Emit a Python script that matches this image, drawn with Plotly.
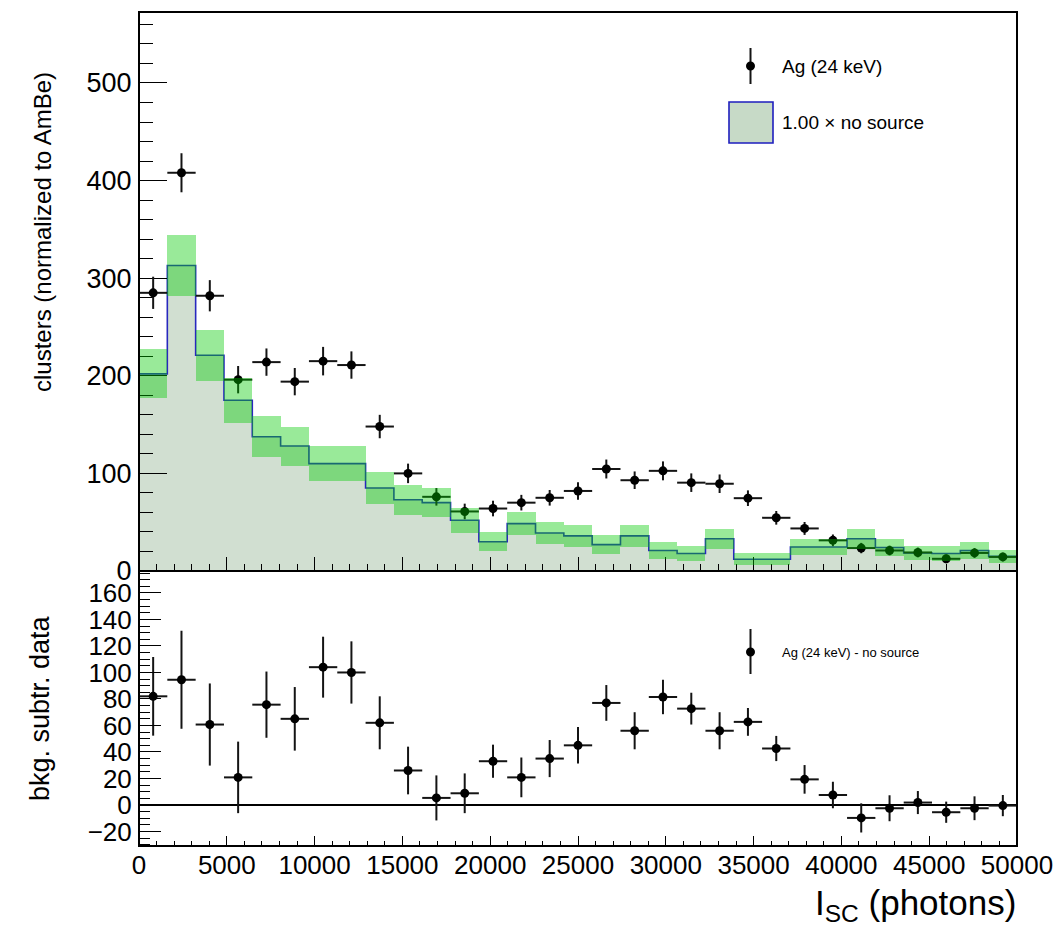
import numpy as np
import plotly.graph_objects as go

# ---------------- data ----------------
x_min, x_max, n_bins = 0, 50000, 31
edges = np.linspace(x_min, x_max, n_bins + 1)
centers = 0.5 * (edges[:-1] + edges[1:])
half_w = 0.5 * (edges[1] - edges[0])

ag_counts = [285, 408, 282, 196, 214, 194, 215, 211, 148, 100, 76, 61, 64, 70, 75, 82,
             104.5, 93, 102.6, 90.5, 89.4, 74.6, 54.5, 43.6, 31.4, 23.5, 21, 19, 12.5, 18.5, 14.4]
ag_err = [16.5, 20, 16, 14, 14, 14, 14.6, 14, 12, 10, 9, 8, 8, 8, 8, 9,
          9.7, 9, 9.7, 9.5, 9.5, 8, 7, 6.6, 6, 5.3, 5, 5, 4.5, 5, 4.5]

nosrc_counts = [202, 313, 221, 175, 137.5, 128, 110, 110, 85, 73, 70, 52, 30, 48.5, 39, 36,
                27, 36, 21, 18, 33, 12, 12, 24.6, 24.6, 33, 24, 18.5, 18, 21, 15]
nosrc_err = [25, 31, 26, 23, 21, 20, 18, 18, 16.5, 15.5, 15, 13, 10, 12, 11.5, 11,
             9.5, 11, 8.5, 7.8, 10, 6, 6, 8, 8, 10.5, 8.5, 7.5, 7.5, 8.5, 7]

sub_vals = [82, 94.5, 60.7, 20.8, 75.7, 65, 104, 100, 62, 26, 5.3, 8.8, 33, 20.8, 35, 45,
            77, 56, 81.5, 72.7, 56, 62.7, 42.6, 19.3, 7.5, -9.8, -2.5, 1.8, -5.5, -2.5, -0.5]
sub_err = [29.7, 37, 31, 27, 25, 24, 23, 23.5, 20, 18, 17, 15, 12.5, 15, 14, 13.8,
           13.5, 14, 13, 12, 14, 10.5, 9.5, 10.8, 10, 11, 9.8, 8.7, 8, 9, 8]

top_range = [0, 572.7]
bot_range = [-31, 176.6]

label_ag = "Ag (24 keV)"
label_bkg = "1.00 × no source"
label_sub = "Ag (24 keV) - no source"
ytitle_top = "clusters (normalized to AmBe)"
ytitle_bot = "bkg. subtr. data"
xtitle = "I<sub>SC</sub> (photons)"

# ---------------- style ----------------
W, H = 1064, 927
FONT = "Liberation Sans, Arial, Helvetica, sans-serif"
FILL = "rgb(209,223,209)"
LINE_BLUE = "rgb(40,40,190)"
BAND = "rgba(0,203,0,0.40)"
PT = "rgb(20,20,20)"

def px(x):
    return x / W

def py(y):
    return 1 - y / H

x_dom = [px(139), px(1017)]
top_dom = [py(571), py(12)]
bot_dom = [py(846), py(571)]

fig = go.Figure()

# background histogram (step + fill)
fig.add_trace(go.Scatter(
    x=edges, y=list(nosrc_counts) + [nosrc_counts[-1]],
    mode="lines", line=dict(shape="hv", color=LINE_BLUE, width=1.6),
    fill="tozeroy", fillcolor=FILL, xaxis="x", yaxis="y",
    showlegend=False, hoverinfo="skip", zorder=0))

# data points
fig.add_trace(go.Scatter(
    x=centers, y=ag_counts, mode="markers",
    marker=dict(color="black", size=9),
    error_x=dict(type="constant", value=half_w, width=0, thickness=2, color=PT),
    error_y=dict(type="data", array=ag_err, width=0, thickness=2, color=PT),
    xaxis="x", yaxis="y", showlegend=False, zorder=1))

# uncertainty band on background (drawn on top)
fig.add_trace(go.Bar(
    x=centers, y=[2 * e for e in nosrc_err],
    base=[v - e for v, e in zip(nosrc_counts, nosrc_err)],
    width=2 * half_w, marker=dict(color=BAND, line=dict(width=0)),
    xaxis="x", yaxis="y", showlegend=False, zorder=2))

# bottom panel
fig.add_trace(go.Scatter(
    x=centers, y=sub_vals, mode="markers",
    marker=dict(color="black", size=9),
    error_x=dict(type="constant", value=half_w, width=0, thickness=2, color=PT),
    error_y=dict(type="data", array=sub_err, width=0, thickness=2, color=PT),
    xaxis="x2", yaxis="y2", showlegend=False))

axis_common = dict(showline=True, linecolor="black", linewidth=2, mirror=True,
                   ticks="inside", tickcolor="black", tickwidth=1,
                   showgrid=False, zeroline=False, automargin=False,
                   tickformat="d", layer="above traces",
                   tickfont=dict(family=FONT, size=27, color="black"))

fig.update_layout(
    template="none",
    width=W, height=H,
    margin=dict(l=0, r=0, t=0, b=0, autoexpand=False),
    paper_bgcolor="white", plot_bgcolor="white",
    barmode="overlay", bargap=0,
    showlegend=False,
    xaxis=dict(axis_common, domain=x_dom, range=[x_min, x_max], anchor="y",
               tickmode="linear", tick0=0, dtick=5000, ticklen=14,
               showticklabels=False,
               minor=dict(dtick=1000, ticklen=7, ticks="inside", tickcolor="black")),
    yaxis=dict(axis_common, domain=top_dom, range=top_range, anchor="x",
               tickmode="linear", tick0=0, dtick=100, ticklen=28,
               minor=dict(dtick=20, ticklen=14, ticks="inside", tickcolor="black")),
    xaxis2=dict(axis_common, domain=x_dom, range=[x_min, x_max], anchor="y2",
                tickmode="linear", tick0=0, dtick=5000, ticklen=10,
                ticklabelstandoff=-5,
                tickfont=dict(family=FONT, size=26, color="black"),
                minor=dict(dtick=1000, ticklen=5, ticks="inside", tickcolor="black")),
    yaxis2=dict(axis_common, domain=bot_dom, range=bot_range, anchor="x2",
                tickmode="linear", tick0=0, dtick=20, ticklen=22,
                tickfont=dict(family=FONT, size=26, color="black"),
                zeroline=True, zerolinecolor="black", zerolinewidth=1.6,
                minor=dict(dtick=5, ticklen=11, ticks="inside", tickcolor="black")),
)

shapes = []
annotations = []

# pad frames
for xr, yr in (("x domain", "y domain"), ("x2 domain", "y2 domain")):
    shapes.append(dict(type="rect", xref=xr, yref=yr, x0=0, x1=1, y0=0, y1=1,
                       line=dict(color="black", width=2), fillcolor="rgba(0,0,0,0)",
                       layer="above"))

# top legend: data marker with error bar
shapes.append(dict(type="line", xref="paper", yref="paper",
                   x0=px(750.5), x1=px(750.5), y0=py(48), y1=py(84),
                   line=dict(color=PT, width=2)))
shapes.append(dict(type="circle", xref="paper", yref="paper",
                   x0=px(746), x1=px(755), y0=py(70.5), y1=py(61.5),
                   fillcolor="black", line=dict(color="black", width=0)))
annotations.append(dict(text=label_ag, xref="paper", yref="paper",
                        x=px(780), y=py(67), xanchor="left", yanchor="middle",
                        showarrow=False, font=dict(family=FONT, size=19, color="black")))
# top legend: background box
shapes.append(dict(type="rect", xref="paper", yref="paper",
                   x0=px(729), x1=px(773), y0=py(143), y1=py(102),
                   fillcolor="rgb(199,218,199)", line=dict(color="rgb(30,30,190)", width=1.6)))
annotations.append(dict(text=label_bkg, xref="paper", yref="paper",
                        x=px(780), y=py(123), xanchor="left", yanchor="middle",
                        showarrow=False, font=dict(family=FONT, size=19, color="black")))

# bottom legend
shapes.append(dict(type="line", xref="paper", yref="paper",
                   x0=px(750.5), x1=px(750.5), y0=py(629), y1=py(674),
                   line=dict(color=PT, width=2)))
shapes.append(dict(type="circle", xref="paper", yref="paper",
                   x0=px(746), x1=px(755), y0=py(656.5), y1=py(647.5),
                   fillcolor="black", line=dict(color="black", width=0)))
annotations.append(dict(text=label_sub, xref="paper", yref="paper",
                        x=px(780), y=py(652), xanchor="left", yanchor="middle",
                        showarrow=False, font=dict(family=FONT, size=13, color="black")))

# axis titles
annotations.append(dict(text=ytitle_top, xref="paper", yref="paper",
                        x=px(42), y=py(232), xanchor="center", yanchor="middle",
                        textangle=-90, showarrow=False,
                        font=dict(family=FONT, size=24, color="black")))
annotations.append(dict(text=ytitle_bot, xref="paper", yref="paper",
                        x=px(40), y=py(708), xanchor="center", yanchor="middle",
                        textangle=-90, showarrow=False,
                        font=dict(family=FONT, size=27, color="black")))
annotations.append(dict(text=xtitle, xref="paper", yref="paper",
                        x=px(1018), y=py(905), xanchor="right", yanchor="middle",
                        showarrow=False,
                        font=dict(family=FONT, size=35, color="black")))

fig.update_layout(shapes=shapes, annotations=annotations)

fig.write_html("out.html")
